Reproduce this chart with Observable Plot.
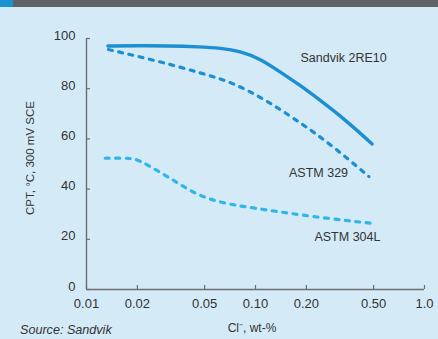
<!DOCTYPE html>
<html>
<head>
<meta charset="utf-8">
<script src="https://cdn.jsdelivr.net/npm/d3@7"></script>
<script src="https://cdn.jsdelivr.net/npm/@observablehq/plot@0.6"></script>
<style>
  html, body { margin: 0; padding: 0; background: #d4eaf7; }
  #wrap { position: relative; width: 438px; height: 339px; overflow: hidden; background: #d4eaf7; }
  #header { height: 7px; background: #5f6367; position: relative; }
  #header .blk { position: absolute; left: 0; top: 0; width: 13px; height: 7px; background: #1b93cf; }
  #chart svg { display: block; }
  #source { position: absolute; left: 20px; top: 323px; font-family: "Liberation Sans", Arial, sans-serif; font-style: italic; font-size: 12.6px; line-height: 15px; color: #333; }
</style>
</head>
<body>
<div id="wrap">
  <div id="header"><div class="blk"></div></div>
  <div id="chart"></div>
  <div id="source">Source: Sandvik</div>
</div>
<script>
// ---- data ----
const sandvikX = [0.0134, 0.02, 0.03, 0.0472, 0.0619, 0.0813, 0.1068, 0.1403, 0.1843, 0.2421, 0.34, 0.49];
const sandvikY = [97.0, 97.1, 97.1, 96.7, 96.2, 95.0, 91.9, 86.6, 81.3, 75.3, 67.6, 58.0];

const astm329X = [0.0135, 0.0281, 0.0472, 0.0725, 0.1121, 0.1766, 0.277, 0.469];
const astm329Y = [95.6, 90.6, 86.3, 82.6, 76.0, 67.3, 58.0, 45.0];

const astm304X = [0.0129, 0.0182, 0.0203, 0.0262, 0.0337, 0.0422, 0.0555, 0.0762, 0.104, 0.233, 0.50];
const astm304Y = [52.3, 52.4, 51.7, 47.4, 43.0, 38.8, 35.5, 33.5, 32.2, 28.7, 26.3];

const seriesNames = ["Sandvik 2RE10", "ASTM 329", "ASTM 304L"];

const xTicks = [0.01, 0.02, 0.05, 0.1, 0.2, 0.5, 1.0];
const xTickLabels = ["0.01", "0.02", "0.05", "0.10", "0.20", "0.50", "1.0"];
const yTicks = [0, 20, 40, 60, 80, 100];

const yTitle = "CPT, °C, 300 mV SCE";
const xTitle = "Cl\u207B, wt-%";

// ---- build table ----
const toRows = (name, xs, ys) => xs.map((x, i) => ({series: name, x, y: ys[i]}));
const rows = [
  ...toRows(seriesNames[0], sandvikX, sandvikY),
  ...toRows(seriesNames[1], astm329X, astm329Y),
  ...toRows(seriesNames[2], astm304X, astm304Y)
];

// label anchor positions (data coordinates)
const labels = [
  {text: seriesNames[0], x: 0.332, y: 92.2},
  {text: seriesNames[1], x: 0.236, y: 46.4},
  {text: seriesNames[2], x: 0.350, y: 20.8}
];

const W = 438, H = 332, mL = 86, mR = 14, mT = 31, mB = 50;
const frameW = W - mL - mR, frameH = H - mT - mB;
const axisColor = "#6b6f73";
const dark = "#1b8fd2", light = "#2fb6ea";
const font = "'Liberation Sans', Arial, sans-serif";

const chart = Plot.plot({
  width: W, height: H,
  marginLeft: mL, marginRight: mR, marginTop: mT, marginBottom: mB,
  style: {background: "transparent", color: "#333", fontFamily: font},
  x: {type: "log", domain: [0.01, 1], label: null, axis: null},
  y: {domain: [0, 100], label: null, axis: null},
  marks: [
    // axis lines
    Plot.ruleY([0], {stroke: axisColor, strokeWidth: 1.4}),
    Plot.ruleX([0.01], {stroke: axisColor, strokeWidth: 1.4}),
    // inward ticks
    Plot.ruleX(xTicks, {x: d => d, insetTop: frameH - 4, stroke: axisColor, strokeWidth: 1.2}),
    Plot.ruleY(yTicks, {y: d => d, insetRight: frameW - 4, stroke: axisColor, strokeWidth: 1.2}),
    // tick labels
    Plot.text(xTicks, {x: d => d, text: (d, i) => xTickLabels[i], frameAnchor: "bottom",
      lineAnchor: "top", dy: 9, fontSize: 13, fill: "#333"}),
    Plot.text(yTicks, {y: d => d, text: d => String(d), frameAnchor: "left",
      textAnchor: "end", dx: -11, dy: -3, fontSize: 13, fill: "#333"}),
    // series
    Plot.line(rows.filter(d => d.series === seriesNames[2]), {x: "x", y: "y", curve: "basis",
      stroke: light, strokeWidth: 3.2, strokeDasharray: "4,6.5", strokeLinecap: "round"}),
    Plot.line(rows.filter(d => d.series === seriesNames[1]), {x: "x", y: "y", curve: "basis",
      stroke: dark, strokeWidth: 3.2, strokeDasharray: "4,6.5", strokeLinecap: "round"}),
    Plot.line(rows.filter(d => d.series === seriesNames[0]), {x: "x", y: "y", curve: "basis",
      stroke: dark, strokeWidth: 3.4, strokeLinecap: "round"}),
    // series labels
    Plot.text(labels, {x: "x", y: "y", text: "text", fontSize: 12.5, fill: "#333"}),
    // axis titles
    Plot.text([yTitle], {frameAnchor: "left", textAnchor: "middle", rotate: -90, dx: -56, dy: -6,
      fontSize: 11.5, fill: "#333"}),
    Plot.text([xTitle], {frameAnchor: "bottom", textAnchor: "middle", dx: -3.5, dy: 42.5,
      fontSize: 12, fill: "#333"})
  ]
});
document.getElementById("chart").appendChild(chart);
</script>
</body>
</html>
